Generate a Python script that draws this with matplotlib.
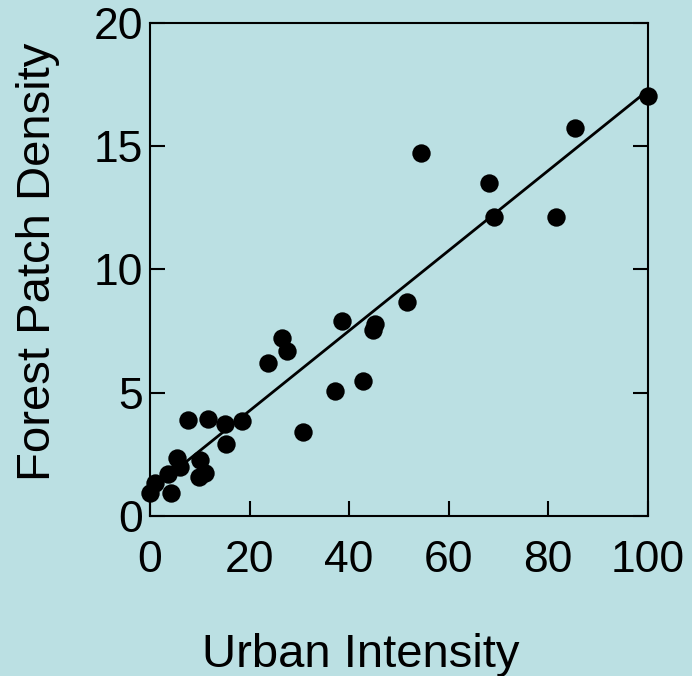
import numpy as np
import matplotlib.pyplot as plt

plt.rcParams['font.family'] = ['Liberation Sans', 'DejaVu Sans']

urban = [0, 1.1, 3.7, 4.2, 5.4, 6.0, 7.7, 10.1, 9.9, 11.1, 11.6, 15.1, 15.3, 18.4,
         23.7, 26.5, 27.5, 30.7, 37.1, 38.5, 42.9, 44.9, 45.3, 51.6, 54.5,
         68.2, 69.2, 81.6, 85.4, 100]
density = [0.92, 1.33, 1.70, 0.92, 2.34, 1.97, 3.89, 2.27, 1.59, 1.76, 3.92, 3.73, 2.91, 3.85,
           6.19, 7.20, 6.70, 3.42, 5.08, 7.92, 5.48, 7.54, 7.78, 8.66, 14.70,
           13.49, 12.11, 12.13, 15.73, 17.02]

bg = '#bbe0e3'
W, H = 692, 676

fig = plt.figure(figsize=(W / 100, H / 100), dpi=100, facecolor=bg)
ax = fig.add_axes([150/W, 1 - 516/H, 497.5/W, (516 - 22.7)/H])
ax.set_facecolor(bg)

# regression line
fit = np.poly1d(np.polyfit(urban, density, 1))
xs = np.array([0, 100])
ax.plot(xs, fit(xs), color='black', lw=2, zorder=2, clip_on=False)

ax.scatter(urban, density, s=175, color='black', zorder=3, clip_on=False, linewidths=0)

ax.set_xlim(0, 100)
ax.set_ylim(0, 20)
ax.set_xticks([0, 20, 40, 60, 80, 100])
ax.set_yticks([0, 5, 10, 15, 20])

for s in ax.spines.values():
    s.set_linewidth(1.5)

ax.tick_params(axis='both', direction='in', length=11, width=1.5, labelsize=32)
ax.tick_params(axis='x', top=False, pad=17)
ax.tick_params(axis='y', right=True, pad=5)

# axis titles sit off-centre in the original, so place them on the figure
fig.text(361/W, 1 - 667/H, 'Urban Intensity', fontsize=34,
         ha='center', va='baseline')
fig.text(50/W, 1 - 262/H, 'Forest Patch Density', fontsize=34, rotation=90,
         rotation_mode='anchor', ha='center', va='baseline')

fig.savefig('out.png', dpi=100, facecolor=bg)
